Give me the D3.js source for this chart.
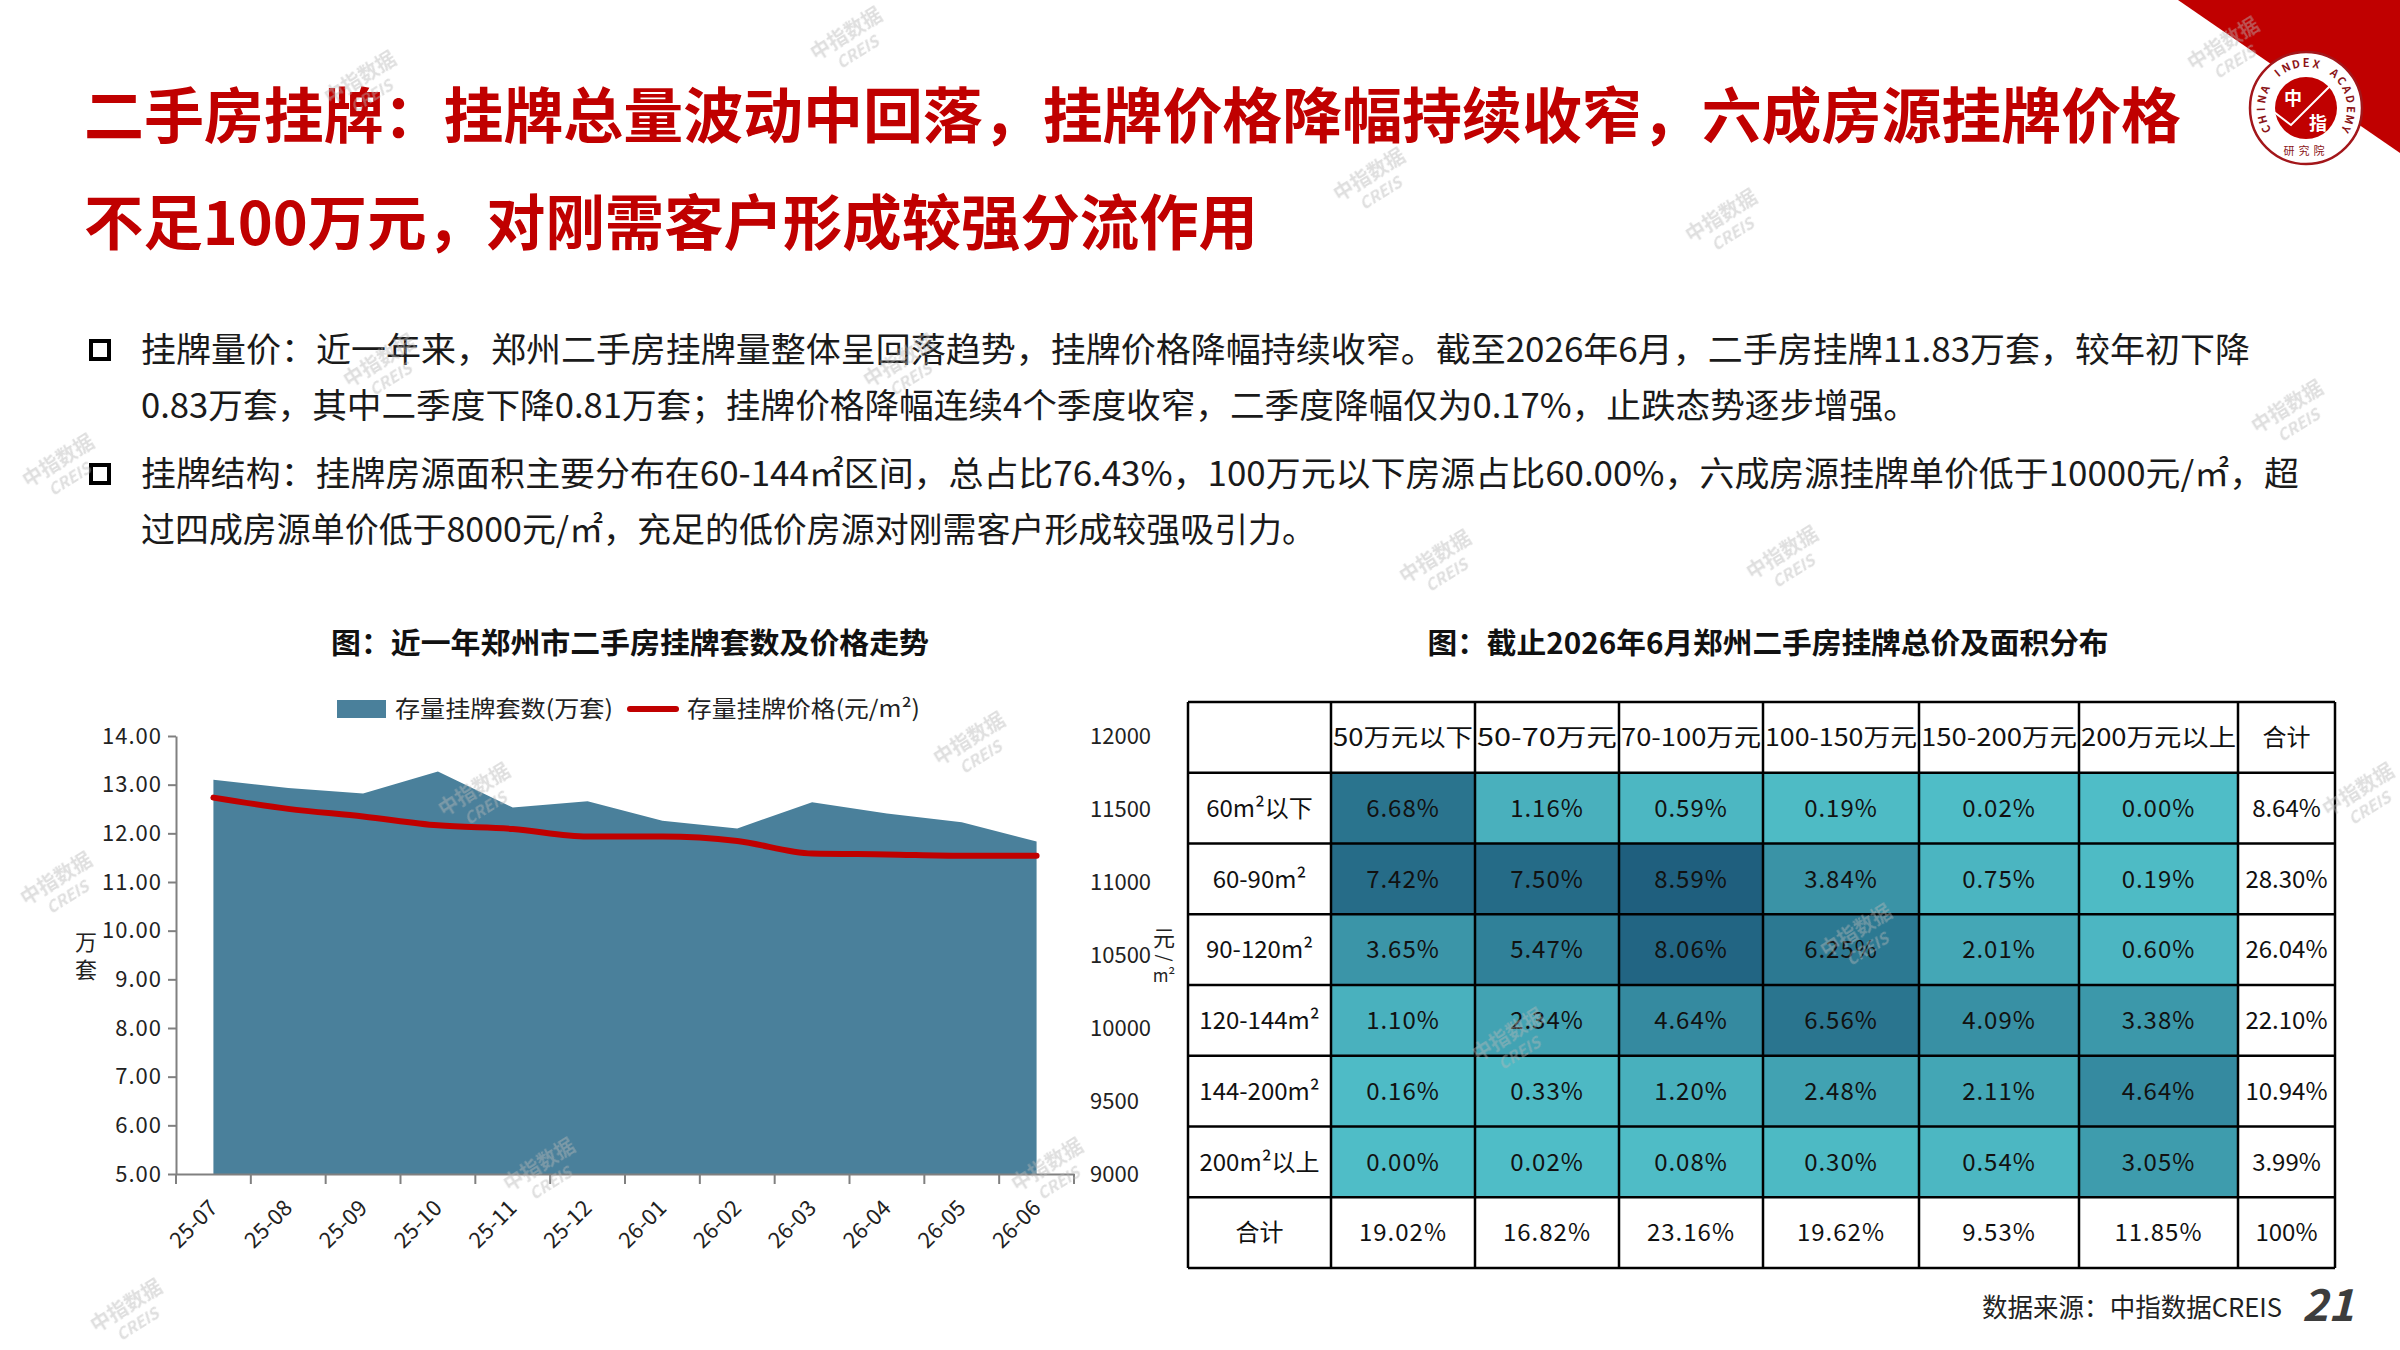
<!DOCTYPE html>
<html>
<head>
<meta charset="utf-8">
<script src="https://cdn.jsdelivr.net/npm/d3@7"></script>
<style>
  body { margin: 0; background: #fff; }
  svg { display: block; }
  text { font-family: "Noto Sans CJK SC", "Noto Sans", sans-serif; }
</style>
</head>
<body>
<script>
// ---- data ----
const months = ["25-07", "25-08", "25-09", "25-10", "25-11", "25-12",
                "26-01", "26-02", "26-03", "26-04", "26-05", "26-06"];
const listings = [13.10, 12.93, 12.82, 13.27, 12.53, 12.66, 12.26, 12.10, 12.64, 12.41, 12.23, 11.83];
const prices = [11578, 11501, 11449, 11388, 11363, 11311, 11311, 11281, 11195, 11189, 11180, 11180];
const leftTicks = [5, 6, 7, 8, 9, 10, 11, 12, 13, 14];
const rightTicks = [9000, 9500, 10000, 10500, 11000, 11500, 12000];

const priceBands = ["50万元以下", "50-70万元", "70-100万元", "100-150万元", "150-200万元", "200万元以上"];
const areaBands = ["60m²以下", "60-90m²", "90-120m²", "120-144m²", "144-200m²", "200m²以上"];
const share60 = [6.68, 1.16, 0.59, 0.19, 0.02, 0.00];
const share90 = [7.42, 7.50, 8.59, 3.84, 0.75, 0.19];
const share120 = [3.65, 5.47, 8.06, 6.25, 2.01, 0.60];
const share144 = [1.10, 2.34, 4.64, 6.56, 4.09, 3.38];
const share200 = [0.16, 0.33, 1.20, 2.48, 2.11, 4.64];
const shareOver = [0.00, 0.02, 0.08, 0.30, 0.54, 3.05];
const rowTotals = [8.64, 28.30, 26.04, 22.10, 10.94, 3.99];
const colTotals = [19.02, 16.82, 23.16, 19.62, 9.53, 11.85];

const titleLines = ["二手房挂牌：挂牌总量波动中回落，挂牌价格降幅持续收窄，六成房源挂牌价格",
                    "不足100万元，对刚需客户形成较强分流作用"];
const bodyLines = [
  "挂牌量价：近一年来，郑州二手房挂牌量整体呈回落趋势，挂牌价格降幅持续收窄。截至2026年6月，二手房挂牌11.83万套，较年初下降",
  "0.83万套，其中二季度下降0.81万套；挂牌价格降幅连续4个季度收窄，二季度降幅仅为0.17%，止跌态势逐步增强。",
  "挂牌结构：挂牌房源面积主要分布在60-144㎡区间，总占比76.43%，100万元以下房源占比60.00%，六成房源挂牌单价低于10000元/㎡，超",
  "过四成房源单价低于8000元/㎡，充足的低价房源对刚需客户形成较强吸引力。"
];

const RED = "#c00000";
const AREA = "#4a809b";

const svg = d3.select("body").append("svg")
  .attr("width", 2400)
  .attr("height", 1350);

// ---- corner + logo ----
svg.append("path").attr("d", "M2178,0 L2400,0 L2400,153 Z").attr("fill", RED);
const logo = svg.append("g").attr("transform", "translate(2306,108)");
logo.append("circle").attr("r", 56).attr("fill", "#fff").attr("stroke", "#a3161a").attr("stroke-width", 2.5);
logo.append("circle").attr("r", 31).attr("fill", RED);
const ringText = "CHINA INDEX ACADEMY".split("");
const ringAngle = d3.scaleLinear().domain([0, ringText.length - 1]).range([-118, 118]);
logo.selectAll("text.ring").data(ringText).join("text")
  .attr("class", "ring")
  .attr("transform", (d, i) => `rotate(${ringAngle(i)}) translate(0,-41)`)
  .attr("text-anchor", "middle")
  .attr("font-family", "Liberation Serif, serif")
  .attr("font-weight", "bold")
  .attr("font-size", 11)
  .attr("fill", "#8b1418")
  .text(d => d);
logo.append("text").attr("x", -13).attr("y", -3).attr("text-anchor", "middle")
  .attr("font-size", 18).attr("font-weight", "bold").attr("fill", "#fff").text("中");
logo.append("text").attr("x", 12).attr("y", 22).attr("text-anchor", "middle")
  .attr("font-size", 18).attr("font-weight", "bold").attr("fill", "#fff").text("指");
logo.append("path").attr("d", "M-32,4 L-15,17 L24,-22")
  .attr("fill", "none").attr("stroke", "#fff").attr("stroke-width", 2);
logo.append("text").attr("x", 0).attr("y", 47).attr("text-anchor", "middle")
  .attr("font-size", 11).attr("fill", "#8b1418").attr("letter-spacing", 4).text("研究院");

// ---- title ----
svg.selectAll("text.title").data(titleLines).join("text")
  .attr("class", "title")
  .attr("x", 84)
  .attr("y", (d, i) => 138 + i * 107)
  .attr("font-size", 60)
  .attr("font-weight", "bold")
  .attr("fill", RED)
  .attr("textLength", (d, i) => [2097, 1174][i])
  .attr("lengthAdjust", "spacingAndGlyphs")
  .text(d => d);

// ---- body text ----
const bodyY = [362, 418, 486, 542];
const bodyLen = [2109, 1777, 2158, 1175];
svg.selectAll("text.body").data(bodyLines).join("text")
  .attr("class", "body")
  .attr("x", 141)
  .attr("y", (d, i) => bodyY[i])
  .attr("font-size", 34)
  .attr("fill", "#1a1a1a")
  .attr("textLength", (d, i) => bodyLen[i])
  .attr("lengthAdjust", "spacingAndGlyphs")
  .text(d => d);
svg.selectAll("rect.bullet").data([bodyY[0], bodyY[2]]).join("rect")
  .attr("class", "bullet")
  .attr("x", 91).attr("y", d => d - 21)
  .attr("width", 18).attr("height", 18)
  .attr("fill", "none").attr("stroke", "#000").attr("stroke-width", 4);

// ---- chart titles ----
svg.append("text").attr("x", 630).attr("y", 654).attr("text-anchor", "middle")
  .attr("font-size", 29).attr("font-weight", "bold").attr("fill", "#111")
  .attr("textLength", 598).attr("lengthAdjust", "spacingAndGlyphs")
  .text("图：近一年郑州市二手房挂牌套数及价格走势");
svg.append("text").attr("x", 1768).attr("y", 654).attr("text-anchor", "middle")
  .attr("font-size", 29).attr("font-weight", "bold").attr("fill", "#111")
  .attr("textLength", 681).attr("lengthAdjust", "spacingAndGlyphs")
  .text("图：截止2026年6月郑州二手房挂牌总价及面积分布");

// ---- left chart: area + line ----
const x = d3.scaleBand().domain(months).range([176, 1074]);
const yL = d3.scaleLinear().domain([5, 14]).range([1174, 736]);
const yR = d3.scaleLinear().domain([9000, 12000]).range([1174, 736]);
const cx = m => x(m) + x.bandwidth() / 2;

svg.append("path")
  .datum(months)
  .attr("fill", AREA)
  .attr("d", d3.area().x(cx).y0(yL(5)).y1((m, i) => yL(listings[i])));

svg.append("path")
  .datum(months)
  .attr("fill", "none")
  .attr("stroke", RED)
  .attr("stroke-width", 6)
  .attr("stroke-linecap", "round")
  .attr("d", d3.line().x(cx).y((m, i) => yR(prices[i])).curve(d3.curveMonotoneX));

// axes
const gy = svg.append("g").attr("transform", "translate(176,0)")
  .call(d3.axisLeft(yL).tickValues(leftTicks).tickFormat(d3.format(".2f"))
    .tickSize(8).tickSizeOuter(0).tickPadding(6));
gy.select(".domain").attr("stroke", "#808080").attr("stroke-width", 2);
gy.selectAll(".tick line").attr("stroke", "#808080").attr("stroke-width", 2);
gy.selectAll(".tick text").attr("font-size", 22).attr("fill", "#222")
  .attr("letter-spacing", 1)
  .attr("font-family", "Liberation Sans, sans-serif");

const gx = svg.append("g").attr("transform", "translate(0,1174)")
  .call(d3.axisBottom(x).tickSize(0).tickSizeOuter(0));
gx.select(".domain").attr("stroke", "#808080").attr("stroke-width", 2);
gx.selectAll(".tick text")
  .attr("y", 0).attr("dy", "0.35em")
  .attr("transform", "translate(0,30) rotate(-45)")
  .attr("text-anchor", "end")
  .attr("font-size", 22).attr("fill", "#222")
  .attr("font-family", "Liberation Sans, sans-serif");
svg.append("g").selectAll("line")
  .data(months.map(m => x(m)).concat([x.range()[1]]))
  .join("line")
  .attr("x1", d => d).attr("x2", d => d)
  .attr("y1", 1174).attr("y2", 1184)
  .attr("stroke", "#808080").attr("stroke-width", 2);

const gr = svg.append("g").attr("transform", "translate(1090,0)")
  .call(d3.axisRight(yR).tickValues(rightTicks).tickFormat(d3.format("d")).tickSize(0).tickPadding(0));
gr.select(".domain").remove();
gr.selectAll(".tick text").attr("font-size", 22).attr("fill", "#222")
  .attr("font-family", "Liberation Sans, sans-serif");

// axis titles
svg.selectAll("text.ylab").data(["万", "套"]).join("text")
  .attr("class", "ylab")
  .attr("x", 86).attr("y", (d, i) => 950 + i * 28)
  .attr("text-anchor", "middle").attr("font-size", 22).attr("fill", "#222")
  .text(d => d);
svg.append("text").attr("x", 1164).attr("y", 946).attr("text-anchor", "middle")
  .attr("font-size", 22).attr("fill", "#222").text("元");
svg.append("text").attr("transform", "translate(1164,958) rotate(90)").attr("text-anchor", "middle")
  .attr("dy", "0.35em").attr("font-size", 18).attr("fill", "#222").text("/");
svg.append("text").attr("x", 1164).attr("y", 982).attr("text-anchor", "middle")
  .attr("font-size", 17).attr("fill", "#222").attr("font-family", "Liberation Sans, sans-serif").text("m²");

// legend
svg.append("rect").attr("x", 337).attr("y", 700).attr("width", 49).attr("height", 18).attr("fill", AREA);
svg.append("text").attr("x", 395).attr("y", 717).attr("font-size", 23).attr("fill", "#222")
  .attr("textLength", 218).attr("lengthAdjust", "spacingAndGlyphs").text("存量挂牌套数(万套)");
svg.append("line").attr("x1", 630).attr("x2", 676).attr("y1", 709).attr("y2", 709)
  .attr("stroke", RED).attr("stroke-width", 6).attr("stroke-linecap", "round");
svg.append("text").attr("x", 687).attr("y", 717).attr("font-size", 23).attr("fill", "#222")
  .attr("textLength", 233).attr("lengthAdjust", "spacingAndGlyphs").text("存量挂牌价格(元/m²)");

// ---- right: table ----
const shareRows = [share60, share90, share120, share144, share200, shareOver];
const colWidths = [143, 144, 144, 144, 156, 160, 159, 97];
const colEdges = Array.from(d3.cumsum([1188].concat(colWidths)));
const rowScale = d3.scaleBand().domain(d3.range(8)).range([702, 1268]);
const fillScale = d3.scaleLinear().domain([0, 8.59]).range(["#4fbdc7", "#1f5f7e"]);
const pct = v => v.toFixed(2) + "%";

const tableData = [];
tableData.push([""].concat(priceBands, ["合计"]).map(t => ({ text: t })));
shareRows.forEach((row, r) => {
  tableData.push([{ text: areaBands[r] }]
    .concat(row.map(v => ({ text: pct(v), value: v })))
    .concat([{ text: pct(rowTotals[r]) }]));
});
tableData.push([{ text: "合计" }].concat(colTotals.map(v => ({ text: pct(v) })), [{ text: "100%" }]));

const cells = svg.append("g").selectAll("g.row").data(tableData).join("g")
  .attr("class", "row")
  .selectAll("g.cell")
  .data((row, r) => row.map((c, ci) => Object.assign({ r, c: ci }, c)))
  .join("g").attr("class", "cell");

cells.append("rect")
  .attr("x", d => colEdges[d.c])
  .attr("y", d => rowScale(d.r))
  .attr("width", d => colWidths[d.c])
  .attr("height", rowScale.bandwidth())
  .attr("fill", d => d.value !== undefined ? fillScale(d.value) : "#fff");

cells.append("text")
  .attr("x", d => colEdges[d.c] + colWidths[d.c] / 2)
  .attr("y", d => rowScale(d.r) + rowScale.bandwidth() / 2)
  .attr("dy", "0.36em")
  .attr("text-anchor", "middle")
  .attr("font-size", 24)
  .attr("fill", "#111")
  .attr("letter-spacing", d => (d.r > 0 && d.c > 0 && d.c < 7 ? 1 : 0))
  .attr("textLength", d => (d.r === 0 && d.c > 0 && d.c < 7) ? colWidths[d.c] - 4 : null)
  .attr("lengthAdjust", "spacingAndGlyphs")
  .text(d => d.text);

const grid = svg.append("g").attr("stroke", "#000").attr("stroke-width", 2.5);
grid.selectAll("line.v").data(colEdges).join("line").attr("class", "v")
  .attr("x1", d => d).attr("x2", d => d).attr("y1", 702).attr("y2", 1268);
grid.selectAll("line.h").data(d3.range(9)).join("line").attr("class", "h")
  .attr("x1", colEdges[0]).attr("x2", colEdges[colEdges.length - 1])
  .attr("y1", i => i < 8 ? rowScale(i) : rowScale.range()[1])
  .attr("y2", i => i < 8 ? rowScale(i) : rowScale.range()[1]);

// ---- footer ----
svg.append("text").attr("x", 1982).attr("y", 1317).attr("font-size", 26).attr("fill", "#222")
  .attr("textLength", 300).attr("lengthAdjust", "spacingAndGlyphs").text("数据来源：中指数据CREIS");
svg.append("text").attr("x", 2302).attr("y", 1321).attr("font-size", 44)
  .attr("font-weight", "bold").attr("font-style", "italic").attr("fill", "#3d3d3d")
  .attr("font-family", "Liberation Sans, sans-serif").text("21");

// ---- watermarks ----
const marks = [[850, 40], [364, 84], [1373, 181], [1725, 222], [383, 367], [903, 367], [2291, 413],
  [62, 467], [1439, 563], [1786, 559], [973, 745], [478, 796], [60, 885], [2362, 796],
  [543, 1171], [1051, 1171], [1512, 1041], [1860, 937], [130, 1312], [2227, 50]];
const wm = svg.append("g").attr("fill", "#b8b8b8").attr("opacity", 0.45).attr("font-weight", "bold");
marks.forEach(([mx, my]) => {
  const g = wm.append("g").attr("transform", `translate(${mx},${my}) rotate(-32)`);
  g.append("text").attr("text-anchor", "middle").attr("font-size", 20).text("中指数据");
  g.append("text").attr("text-anchor", "middle").attr("y", 20).attr("font-size", 16)
    .attr("font-style", "italic").attr("font-family", "Liberation Sans, sans-serif").text("CREIS");
});
</script>
</body>
</html>
